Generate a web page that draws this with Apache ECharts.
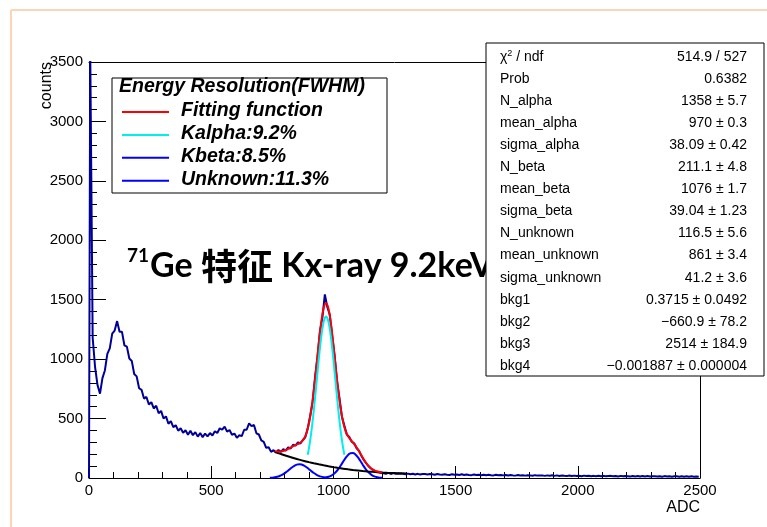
<!DOCTYPE html>
<html><head><meta charset="utf-8">
<script src="https://cdn.jsdelivr.net/npm/echarts@6/dist/echarts.min.js"></script>
<style>html,body{margin:0;padding:0;background:#fff}#c{width:767px;height:527px}</style>
</head><body><div id="c"></div>
<script>
// ---------- data ----------
const histStart = 0, histBinWidth = 10;
const histCounts = [
  3600, 1180, 930, 780, 710, 840, 905, 1045, 1090, 1215,
  1240, 1320, 1230, 1230, 1115, 1105, 1005, 985, 875, 855,
  755, 742, 668, 682, 618, 638, 585, 608, 545, 565,
  500, 518, 456, 478, 428, 444, 398, 418, 380, 402,
  364, 398, 360, 386, 348, 378, 344, 374, 350, 378,
  358, 394, 378, 418, 406, 432, 390, 404, 364, 374,
  338, 360, 352, 406, 406, 460, 436, 446, 376, 366,
  316, 304, 254, 258, 220, 234, 214, 236, 220, 242,
  230, 258, 248, 280, 272, 300, 290, 320, 342, 418,
  525, 640, 850, 1020, 1235, 1350, 1545, 1440, 1375, 1195,
  1030, 810, 670, 515, 440, 365, 345, 305, 292, 250,
  228, 185, 150, 122, 96, 78, 64, 55, 50, 44,
  40, 36, 43, 34, 41, 35, 37, 36, 38, 32,
  37, 31, 36, 30, 35, 29, 34, 33, 29, 33,
  31, 27, 33, 29, 28, 32, 28, 26, 31, 27,
  30, 26, 31, 25, 29, 26, 24, 29, 25, 28,
  24, 28, 23, 27, 24, 22, 27, 23, 26, 22,
  25, 21, 26, 22, 20, 25, 21, 24, 20, 23,
  22, 19, 24, 20, 21, 22, 18, 22, 19, 23,
  18, 22, 17, 21, 18, 16, 21, 17, 20, 16,
  19, 15, 20, 16, 19, 15, 18, 14, 19, 15,
  18, 14, 17, 18, 14, 17, 13, 18, 14, 17,
  15, 13, 17, 13, 16, 12, 17, 13, 16, 12,
  15, 14, 12, 15, 11, 16, 12, 15, 11, 14,
  14, 11, 15, 11, 14, 10, 14, 11, 13, 10
];
// total fit function (red), 760..1200 step 10
const fitStart = 760, fitStep = 10;
const fitValues = [226.3, 223.2, 222.8, 225.2, 230.8, 239.4, 250.3, 261.8, 272.6, 282.3,
  292.1, 306.0, 331.6, 379.0, 458.9, 578.7, 739.6, 930.7, 1129.7, 1306.2,
  1427.6, 1469.3, 1422.8, 1297.7, 1119.3, 921.2, 734.1, 579.8, 467.7, 394.5,
  350.4, 322.2, 298.8, 272.9, 242.0, 207.1, 171.4, 138.0, 110.1, 88.3,
  72.5, 61.7, 54.8, 50.3, 47.4];
// Kalpha (cyan), 895..1045 step 5
const kalphaStart = 895, kalphaStep = 5;
const kalphaValues = [195.4, 251.0, 316.7, 392.7, 478.8, 573.8, 675.7, 782.5, 890.4, 995.8,
  1094.8, 1183.1, 1256.7, 1312.0, 1346.3, 1358, 1346.3, 1312.0, 1256.7, 1183.1,
  1094.8, 995.8, 890.4, 782.5, 675.7, 573.8, 478.8, 392.7, 316.7, 251.0, 195.4];
// Kbeta (blue), 960..1200 step 10
const kbetaStart = 960, kbetaStep = 10;
const kbetaValues = [2.6, 5.3, 10.3, 18.7, 31.7, 50.6, 75.5, 105.4, 138.0, 169.1,
  194.1, 208.6, 210.0, 198.0, 174.8, 144.5, 111.9, 81.1, 55.1, 35.0,
  20.9, 11.6, 6.1, 3.0, 1.4];
// Unknown (blue), 740..980 step 10
const unkStart = 740, unkStep = 10;
const unkValues = [1.6, 3.1, 5.8, 10.2, 16.9, 26.4, 38.9, 54.2, 71.0, 87.8,
  102.3, 112.4, 116.5, 113.7, 104.7, 90.9, 74.4, 57.4, 41.8, 28.7,
  18.5, 11.3, 6.5, 3.5, 1.8];
// background (black), 760..1300 step 20
const bkgStart = 760, bkgStep = 20;
const bkgValues = [220.5, 205.9, 191.9, 178.7, 166.3, 154.6, 143.6, 133.5, 123.9, 114.9,
  106.5, 98.7, 91.5, 84.8, 78.7, 73.0, 67.8, 63.2, 58.9, 55.0,
  51.6, 48.7, 46.0, 43.7, 41.9, 40.4, 39.2, 38.4];

const legendTitle = 'Energy Resolution(FWHM)';
const legendNames = ['Fitting function', 'Kalpha:9.2%', 'Kbeta:8.5%', 'Unknown:11.3%'];
const legendColors = ['#ff0000', '#00eeee', '#0000ff', '#0000ff'];

const statNames = ['χ2 / ndf', 'Prob', 'N_alpha', 'mean_alpha', 'sigma_alpha', 'N_beta', 'mean_beta',
  'sigma_beta', 'N_unknown', 'mean_unknown', 'sigma_unknown', 'bkg1', 'bkg2', 'bkg3', 'bkg4'];
const statValues = ['514.9 / 527', '0.6382', '1358 ± 5.7', '970 ± 0.3', '38.09 ± 0.42', '211.1 ± 4.8',
  '1076 ± 1.7', '39.04 ± 1.23', '116.5 ± 5.6', '861 ± 3.4', '41.2 ± 3.6', '0.3715 ± 0.0492',
  '−660.9 ± 78.2', '2514 ± 184.9', '−0.001887 ± 0.000004'];

const xTicks = {min: 0, max: 2500, interval: 500};
const yTicks = {min: 0, max: 3500, interval: 500};

// ---------- build ----------
function pairs(start, step, vals) { return vals.map((v, i) => [start + i * step, v]); }
const histData = [[histStart, 0]].concat(pairs(histStart + histBinWidth / 2, histBinWidth, histCounts));

const FONT = 'Liberation Sans';
const chart = echarts.init(document.getElementById('c'), null, {renderer: 'canvas'});

const axisCommon = {
  type: 'value',
  axisLine: {show: true, onZero: false, lineStyle: {color: '#000', width: 1}},
  splitLine: {show: false},
};

const graphics = [];
// slide decoration
graphics.push({type: 'line', shape: {x1: 11, y1: 10, x2: 767, y2: 10}, style: {stroke: '#fbd5b8', lineWidth: 2}, z: 0});
graphics.push({type: 'line', shape: {x1: 11, y1: 10, x2: 11, y2: 527}, style: {stroke: '#fbd5b8', lineWidth: 2}, z: 0});

// legend box
const lg = {x: 112, y: 78, w: 275, h: 115};
graphics.push({type: 'rect', shape: {x: lg.x, y: lg.y, width: lg.w, height: lg.h},
  style: {fill: '#fff', stroke: '#000', lineWidth: 1}, z: 10});
graphics.push({type: 'text', x: 119, y: 87, z: 11,
  style: {text: legendTitle, font: 'italic bold 19.5px "Liberation Sans"', fill: '#000', verticalAlign: 'middle'}});
legendNames.forEach((n, i) => {
  const cy = 111 + i * 22.9;
  graphics.push({type: 'line', z: 11, shape: {x1: 122, y1: cy + 1, x2: 169, y2: cy + 1},
    style: {stroke: legendColors[i], lineWidth: 2}});
  graphics.push({type: 'text', x: 181, y: cy, z: 11,
    style: {text: n, font: 'italic bold 19.5px "Liberation Sans"', fill: '#000', verticalAlign: 'middle'}});
});

// annotation
graphics.push({type: 'text', x: 127, y: 266, z: 5,
  style: {
    text: '{sup|71}{lat|Ge }{cjk|特征}{lat| Kx-ray 9.2keV}',
    verticalAlign: 'middle',
    rich: {
      sup: {fontSize: 19, fontWeight: 'bold', fontFamily: 'Lato', lineHeight: 40, verticalAlign: 'top', padding: [0, 1, 0, 0], fill: '#000'},
      lat: {fontSize: 34, fontWeight: 'bold', fontFamily: 'Lato', lineHeight: 40, fill: '#000'},
      cjk: {fontSize: 36, fontWeight: 'bold', fontFamily: 'Noto Sans CJK SC', lineHeight: 40, fill: '#000'}
    }
  }});

// stats box
const sb = {x: 486, y: 43, w: 278, h: 333};
graphics.push({type: 'rect', shape: {x: sb.x, y: sb.y, width: sb.w, height: sb.h},
  style: {fill: '#fff', stroke: '#000', lineWidth: 1}, z: 20});
statNames.forEach((n, i) => {
  const cy = 57 + i * 22.07;
  const isChi = n.indexOf('χ2') === 0;
  graphics.push({type: 'text', x: 500, y: cy, z: 21,
    style: isChi ? {
      text: '{a|χ}{s|2}{a| / ndf}', verticalAlign: 'middle',
      rich: {a: {fontSize: 14, fontFamily: FONT, fill: '#000', lineHeight: 16},
             s: {fontSize: 9, fontFamily: FONT, fill: '#000', lineHeight: 16, verticalAlign: 'top'}}
    } : {text: n, fontSize: 14, fontFamily: FONT, fill: '#000', verticalAlign: 'middle'}});
  graphics.push({type: 'text', x: 747, y: cy, z: 21,
    style: {text: statValues[i], fontSize: 14, fontFamily: FONT, fill: '#000', align: 'right', verticalAlign: 'middle'}});
});

// axis titles
graphics.push({type: 'text', x: 47, y: 62, rotation: Math.PI / 2, z: 5,
  style: {text: 'counts', fontSize: 16, fontFamily: FONT, fill: '#000', align: 'right', verticalAlign: 'middle'}});
graphics.push({type: 'text', x: 700, y: 508, z: 5,
  style: {text: 'ADC', fontSize: 16, fontFamily: FONT, fill: '#000', align: 'right', verticalAlign: 'middle'}});

const plainNum = v => String(v);

const option = {
  animation: false,
  backgroundColor: '#fff',
  grid: {left: 89, right: 67, top: 62, bottom: 49, containLabel: false},
  xAxis: [
    Object.assign({}, axisCommon, {
      min: xTicks.min, max: xTicks.max, interval: xTicks.interval, position: 'bottom',
      axisTick: {show: true, inside: true, length: 12, lineStyle: {color: '#000'}},
      minorTick: {show: true, splitNumber: 5, length: 6, lineStyle: {color: '#000'}},
      axisLabel: {show: true, margin: 5, fontSize: 15, fontFamily: FONT, color: '#000', formatter: plainNum}
    }),
    Object.assign({}, axisCommon, {
      min: xTicks.min, max: xTicks.max, position: 'top',
      axisTick: {show: false}, axisLabel: {show: false}
    })
  ],
  yAxis: [
    Object.assign({}, axisCommon, {
      min: yTicks.min, max: yTicks.max, interval: yTicks.interval, position: 'left',
      axisTick: {show: true, inside: true, length: 17, lineStyle: {color: '#000'}},
      minorTick: {show: true, splitNumber: 5, length: 8, lineStyle: {color: '#000'}},
      axisLabel: {show: true, margin: 6, fontSize: 15, fontFamily: FONT, color: '#000', formatter: plainNum}
    }),
    Object.assign({}, axisCommon, {
      min: yTicks.min, max: yTicks.max, position: 'right',
      axisTick: {show: false}, axisLabel: {show: false}
    })
  ],
  series: [
    {name: 'data', type: 'line', data: histData, showSymbol: false, symbol: 'none', clip: true,
      lineStyle: {color: '#000099', width: 2}, z: 2},
    {name: legendNames[3], type: 'line', data: pairs(unkStart, unkStep, unkValues), smooth: 0.4,
      showSymbol: false, symbol: 'none', lineStyle: {color: '#0000ff', width: 2}, z: 3},
    {name: legendNames[2], type: 'line', data: pairs(kbetaStart, kbetaStep, kbetaValues), smooth: 0.4,
      showSymbol: false, symbol: 'none', lineStyle: {color: '#0000ff', width: 2}, z: 3},
    {name: 'background', type: 'line', data: pairs(bkgStart, bkgStep, bkgValues), smooth: 0.4,
      showSymbol: false, symbol: 'none', lineStyle: {color: '#000', width: 2}, z: 3},
    {name: legendNames[0], type: 'line', data: pairs(fitStart, fitStep, fitValues), smooth: 0.4,
      showSymbol: false, symbol: 'none', lineStyle: {color: '#ff0000', width: 2}, z: 4},
    {name: legendNames[1], type: 'line', data: pairs(kalphaStart, kalphaStep, kalphaValues), smooth: 0.4,
      showSymbol: false, symbol: 'none', lineStyle: {color: '#00eeee', width: 2}, z: 5}
  ],
  graphic: graphics
};
chart.setOption(option);
</script>
</body></html>
